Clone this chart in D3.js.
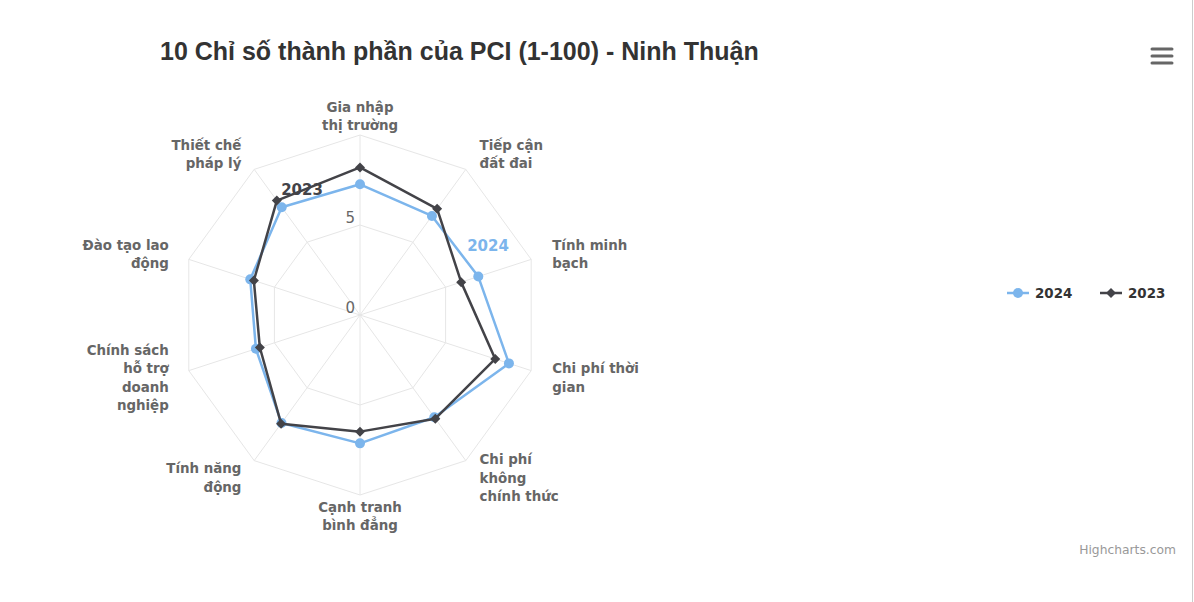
<!DOCTYPE html>
<html>
<head>
<meta charset="utf-8">
<script src="https://cdn.jsdelivr.net/npm/d3@7"></script>
<style>
  html, body { margin: 0; padding: 0; background: #fff; }
  svg { display: block; }
</style>
</head>
<body>
<script>
// ---- DATA ----
const titleText = "10 Chỉ số thành phần của PCI (1-100) - Ninh Thuận";
const categories = [
  "Gia nhập thị trường", "Tiếp cận đất đai", "Tính minh bạch", "Chi phí thời gian",
  "Chi phí không chính thức", "Cạnh tranh bình đẳng", "Tính năng động",
  "Chính sách hỗ trợ doanh nghiệp", "Đào tạo lao động", "Thiết chế pháp lý"
];
const categoryLines = [
  ["Gia nhập", "thị trường"], ["Tiếp cận", "đất đai"], ["Tính minh", "bạch"],
  ["Chi phí thời", "gian"], ["Chi phí", "không", "chính thức"], ["Cạnh tranh", "bình đẳng"],
  ["Tính năng", "động"], ["Chính sách", "hỗ trợ", "doanh", "nghiệp"],
  ["Đào tạo lao", "động"], ["Thiết chế", "pháp lý"]
];
const values2024 = [7.26, 6.80, 6.91, 8.70, 7.02, 7.13, 7.42, 6.08, 6.41, 7.40];
const values2023 = [8.20, 7.29, 5.91, 7.90, 7.12, 6.48, 7.46, 5.85, 6.20, 7.86];
const seriesNames = ["2024", "2023"];
const seriesColors = ["#7cb5ec", "#434348"];
const radialTicks = [0, 5, 10];
const tickLabels = ["0", "5"];

// ---- LAYOUT ----
const W = 1194, H = 602;
const cx = 360, cy = 315, R = 180;
const labelFont = "'DejaVu Sans', Verdana, sans-serif";

const svg = d3.select("body").append("svg").attr("width", W).attr("height", H);
svg.append("rect").attr("width", W).attr("height", H).attr("fill", "#fff");
svg.append("line").attr("x1", W - 1.5).attr("x2", W - 1.5).attr("y1", 0).attr("y2", H)
  .attr("stroke", "#cccccc").attr("stroke-width", 1);

const rScale = d3.scaleLinear().domain([0, 10]).range([0, R]);
const aScale = d3.scaleLinear().domain([0, categories.length]).range([0, 2 * Math.PI]);

const g = svg.append("g").attr("transform", `translate(${cx},${cy})`);

// grid polygons
const gridLine = d3.lineRadial().curve(d3.curveLinearClosed)
  .angle((d, i) => aScale(i)).radius(d => rScale(d));
radialTicks.filter(t => t > 0).forEach(t => {
  g.append("path").attr("d", gridLine(categories.map(() => t)))
    .attr("fill", "none").attr("stroke", "#e6e6e6").attr("stroke-width", 1);
});
// spokes
categories.forEach((c, i) => {
  const a = aScale(i);
  g.append("line").attr("x1", 0).attr("y1", 0)
    .attr("x2", rScale(10) * Math.sin(a)).attr("y2", -rScale(10) * Math.cos(a))
    .attr("stroke", "#e6e6e6").attr("stroke-width", 1);
});

// tick labels
tickLabels.forEach((t, i) => {
  g.append("text").attr("x", -5).attr("y", -rScale(+t) - 2)
    .attr("text-anchor", "end").attr("font-family", labelFont).attr("font-size", 15)
    .attr("fill", "#666").text(t);
});

// category labels
categoryLines.forEach((lines, i) => {
  const a = aScale(i);
  const lr = rScale(10) + 20;
  const px = lr * Math.sin(a), py = -lr * Math.cos(a);
  const s = Math.sin(a);
  let anchor = "middle", dx = 0;
  if (s > 0.1) { anchor = "start"; dx = 2; }
  else if (s < -0.1) { anchor = "end"; dx = -1; }
  const lh = 18.5;
  const firstCenter = py + 1 - (lines.length - 1) * lh / 2;
  const t = g.append("text").attr("text-anchor", anchor)
    .attr("font-family", labelFont).attr("font-size", 13.4).attr("font-weight", "bold")
    .attr("fill", "#666");
  lines.forEach((ln, j) => {
    t.append("tspan").attr("x", px + dx).attr("y", firstCenter + j * lh + 4.8).text(ln);
  });
});

// series
const allSeries = [values2024, values2023];
const seriesLine = d3.lineRadial().curve(d3.curveLinearClosed)
  .angle((d, i) => aScale(i)).radius(d => rScale(d));
allSeries.forEach((vals, si) => {
  const color = seriesColors[si];
  g.append("path").attr("d", seriesLine(vals)).attr("fill", "none")
    .attr("stroke", color).attr("stroke-width", 2.5).attr("stroke-linejoin", "round");
  vals.forEach((v, i) => {
    const a = aScale(i);
    const x = rScale(v) * Math.sin(a), y = -rScale(v) * Math.cos(a);
    if (si === 0) {
      g.append("circle").attr("cx", x).attr("cy", y).attr("r", 5).attr("fill", color);
    } else {
      g.append("path").attr("d", d3.symbol(d3.symbolSquare, 50)())
        .attr("transform", `translate(${x},${y}) rotate(45)`).attr("fill", color);
    }
  });
});

// series labels
svg.append("text").attr("x", 488).attr("y", 251).attr("text-anchor", "middle")
  .attr("font-family", labelFont).attr("font-size", 15).attr("font-weight", "bold")
  .attr("fill", seriesColors[0]).text(seriesNames[0]);
svg.append("text").attr("x", 302).attr("y", 195).attr("text-anchor", "middle")
  .attr("font-family", labelFont).attr("font-size", 15).attr("font-weight", "bold")
  .attr("fill", seriesColors[1]).text(seriesNames[1]);

// title
svg.append("text").attr("x", 160).attr("y", 59.5)
  .attr("font-family", "'Liberation Sans', Arial, sans-serif").attr("font-size", 25)
  .attr("font-weight", "bold").attr("fill", "#333").text(titleText);

// legend
const legendItems = [{x: 1007}, {x: 1100}];
legendItems.forEach((li, si) => {
  const y = 293;
  const color = seriesColors[si];
  svg.append("line").attr("x1", li.x).attr("x2", li.x + 22).attr("y1", y).attr("y2", y)
    .attr("stroke", color).attr("stroke-width", 2.5);
  if (si === 0) {
    svg.append("circle").attr("cx", li.x + 11).attr("cy", y).attr("r", 5).attr("fill", color);
  } else {
    svg.append("path").attr("d", d3.symbol(d3.symbolSquare, 50)())
      .attr("transform", `translate(${li.x + 11},${y}) rotate(45)`).attr("fill", color);
  }
  svg.append("text").attr("x", li.x + 28).attr("y", 298)
    .attr("font-family", labelFont).attr("font-size", 13.4).attr("font-weight", "bold")
    .attr("fill", "#333").text(seriesNames[si]);
});

// menu icon
[49, 56, 63].forEach(y => {
  svg.append("line").attr("x1", 1152).attr("x2", 1172).attr("y1", y).attr("y2", y)
    .attr("stroke", "#666").attr("stroke-width", 3).attr("stroke-linecap", "round");
});

// credits
svg.append("text").attr("x", 1176).attr("y", 554).attr("text-anchor", "end")
  .attr("font-family", labelFont).attr("font-size", 12.3).attr("fill", "#999")
  .text("Highcharts.com");
</script>
</body>
</html>
